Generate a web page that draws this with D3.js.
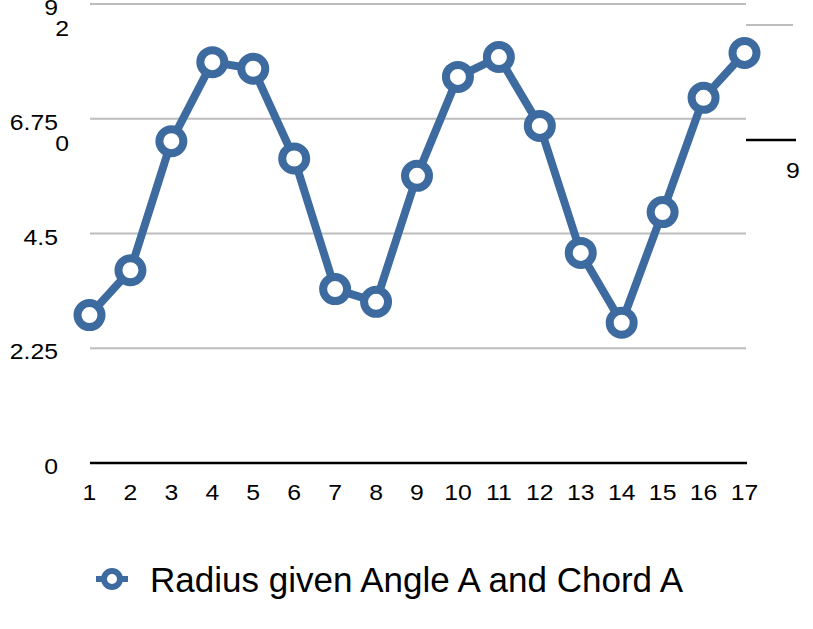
<!DOCTYPE html>
<html lang="en">
<head>
  <meta charset="UTF-8">
  <style>
    html, body { margin: 0; padding: 0; background: #fff; }
    svg { display: block; font-family: "Liberation Sans", Arial, sans-serif; }
  </style>
  <script src="https://d3js.org/d3.v7.min.js"></script>
</head>
<body>
  <svg id="chart" width="813" height="629"></svg>

  <script>
    // data
    const xValues = [1, 2, 3, 4, 5, 6, 7, 8, 9, 10, 11, 12, 13, 14, 15, 16, 17];
    const radius = [2.90, 3.78, 6.31, 7.86, 7.73, 5.97, 3.41, 3.16, 5.63, 7.57, 7.96, 6.61, 4.12, 2.75, 4.92, 7.16, 8.04];
    const yTicks = [0, 2.25, 4.5, 6.75, 9];
    const yTickLabels = ["0", "2.25", "4.5", "6.75", "9"];
    const seriesName = "Radius given Angle A and Chord A";
    // leftover bits of a second, collapsed axis that show in the reference
    const ghostTicks = [0, 2];
    const ghostXLabel = "9";

    const blue = "#3d6b9f";
    const svg = d3.select("#chart");

    const x = d3.scaleLinear().domain([1, 17]).range([89.5, 744.5]);
    const y = d3.scaleLinear().domain([0, 9]).range([463, 4]);
    const yGhost = d3.scaleLinear().domain([0, 2]).range([140, 25]);

    // tick text in the reference is a bit wide, so stretch it sideways
    const stretch = (sel, px, py) => sel
      .attr("transform", (d, i) => `translate(${px(d, i)},${py(d, i)}) scale(1.1,1)`)
      .attr("font-size", 22.5)
      .attr("dy", "0.36em");

    // gridlines
    svg.append("g")
      .selectAll("line")
      .data(yTicks.filter(d => d > 0))
      .enter().append("line")
      .attr("x1", 90).attr("x2", 746)
      .attr("y1", d => y(d)).attr("y2", d => y(d))
      .attr("stroke", "#bdbdbd")
      .attr("stroke-width", 2);

    // y axis labels
    svg.append("g")
      .selectAll("text")
      .data(yTicks)
      .enter().append("text")
      .attr("text-anchor", "end")
      .call(stretch, () => 58, d => y(d) + 3)
      .text((d, i) => yTickLabels[i]);

    // x axis line
    svg.append("line")
      .attr("x1", 90).attr("x2", 747)
      .attr("y1", y(0)).attr("y2", y(0))
      .attr("stroke", "#000")
      .attr("stroke-width", 2.5);

    // x axis labels
    svg.append("g")
      .selectAll("text")
      .data(xValues)
      .enter().append("text")
      .attr("text-anchor", "middle")
      .call(stretch, d => x(d), () => 492)
      .text(d => d);

    // ghost axis remains
    svg.append("g")
      .selectAll("text")
      .data(ghostTicks)
      .enter().append("text")
      .attr("text-anchor", "end")
      .call(stretch, () => 69, d => yGhost(d) + 3)
      .text(d => d);

    svg.append("line")
      .attr("x1", 746).attr("x2", 793)
      .attr("y1", yGhost(2)).attr("y2", yGhost(2))
      .attr("stroke", "#bdbdbd").attr("stroke-width", 2);

    svg.append("line")
      .attr("x1", 746).attr("x2", 796)
      .attr("y1", yGhost(0)).attr("y2", yGhost(0))
      .attr("stroke", "#000").attr("stroke-width", 2.5);

    svg.append("g")
      .selectAll("text")
      .data([ghostXLabel])
      .enter().append("text")
      .attr("text-anchor", "middle")
      .call(stretch, () => 793, () => 170)
      .text(d => d);

    // the series
    const line = d3.line()
      .x((d, i) => x(xValues[i]))
      .y(d => y(d));

    svg.append("path")
      .datum(radius)
      .attr("d", line)
      .attr("fill", "none")
      .attr("stroke", blue)
      .attr("stroke-width", 8)
      .attr("stroke-linejoin", "round");

    svg.append("g")
      .selectAll("circle")
      .data(radius)
      .enter().append("circle")
      .attr("cx", (d, i) => x(xValues[i]))
      .attr("cy", d => y(d))
      .attr("r", 12)
      .attr("fill", "#fff")
      .attr("stroke", blue)
      .attr("stroke-width", 8);

    // legend
    const legend = svg.append("g").attr("transform", "translate(112, 579)");
    legend.append("line")
      .attr("x1", -16).attr("x2", 16)
      .attr("stroke", blue).attr("stroke-width", 6);
    legend.append("circle")
      .attr("r", 8)
      .attr("fill", "#fff")
      .attr("stroke", blue)
      .attr("stroke-width", 6);
    legend.append("text")
      .attr("x", 38)
      .attr("dy", "0.36em")
      .attr("font-size", 35)
      .text(seriesName);
  </script>
</body>
</html>
